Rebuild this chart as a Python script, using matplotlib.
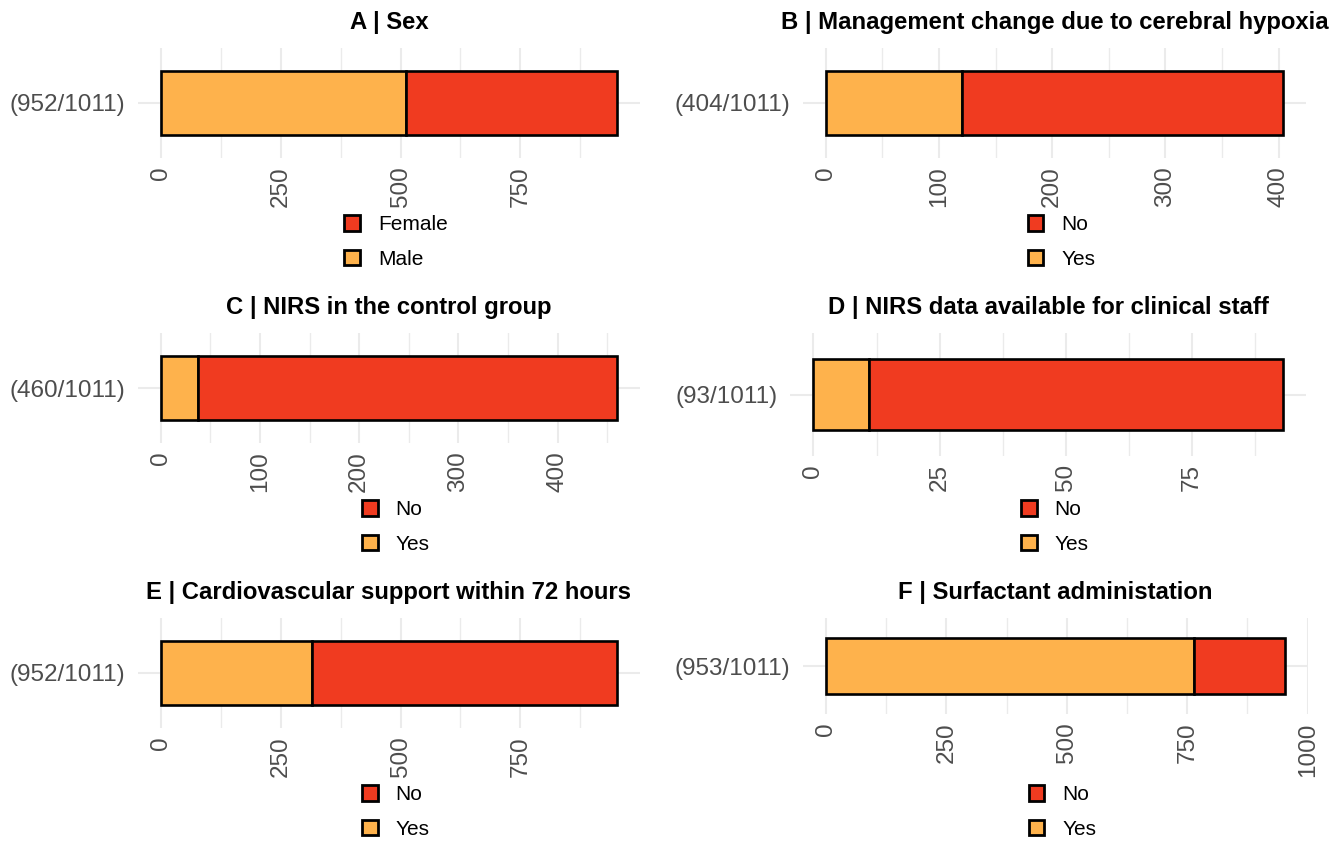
import matplotlib.pyplot as plt
from matplotlib.patches import Patch
from matplotlib.ticker import MultipleLocator

plt.rcParams['font.family'] = ['Liberation Sans', 'DejaVu Sans']

# colours (YlOrRd)
RED = '#F03B20'
ORANGE = '#FEB24C'
GRID = '#EBEBEB'
TEXT_GREY = '#4D4D4D'

W, H = 1335, 841
n_total = 1011

titles = [
    'A | Sex',
    'B | Management change due to cerebral hypoxia',
    'C | NIRS in the control group',
    'D | NIRS data available for clinical staff',
    'E | Cardiovascular support within 72 hours',
    'F | Surfactant administation',
]
right_levels = ['Female', 'No', 'No', 'No', 'No', 'No']
left_levels = ['Male', 'Yes', 'Yes', 'Yes', 'Yes', 'Yes']
right_counts = [441, 284, 423, 82, 637, 189]
left_counts = [511, 120, 37, 11, 315, 764]
major_steps = [250, 100, 100, 25, 250, 250]

# panel boxes in pixels: left, top, right, bottom
boxes = [
    (138, 48, 640, 158), (803, 48, 1306, 158),
    (138, 333, 640, 443), (790, 333, 1306, 456),
    (138, 618, 640, 728), (803, 618, 1308, 714),
]
legend_rows = [242, 242, 527, 527, 812, 812]


def add_panel(fig, i):
    l, t, r, b = boxes[i]
    ax = fig.add_axes([l / W, 1 - b / H, (r - l) / W, (b - t) / H])
    left_n, right_n = left_counts[i], right_counts[i]
    total = left_n + right_n

    ax.barh(1, left_n, height=0.7, color=ORANGE, edgecolor='black', lw=1.9, zorder=3)
    ax.barh(1, right_n, left=left_n, height=0.7, color=RED, edgecolor='black', lw=1.9, zorder=3)

    ax.set_ylim(0.4, 1.6)
    ax.set_xlim(-0.05 * total, 1.05 * total)
    ax.xaxis.set_major_locator(MultipleLocator(major_steps[i]))
    ax.xaxis.set_minor_locator(MultipleLocator(major_steps[i] / 2))
    ax.set_yticks([1], ['({}/{})'.format(total, n_total)])

    ax.grid(which='major', color=GRID, lw=1.5)
    ax.grid(which='minor', axis='x', color=GRID, lw=1.0)
    ax.set_axisbelow(True)
    for s in ax.spines.values():
        s.set_visible(False)
    ax.tick_params(which='both', length=0, colors=TEXT_GREY, labelsize=17.5)
    ax.tick_params(axis='x', labelrotation=90, pad=6)
    ax.tick_params(axis='y', pad=9)

    ax.set_title(titles[i], fontweight='bold', fontsize=17.2, pad=14)

    handles = [
        Patch(facecolor=RED, edgecolor='black', lw=2.0, label=right_levels[i]),
        Patch(facecolor=ORANGE, edgecolor='black', lw=2.0, label=left_levels[i]),
    ]
    xc = (l + r) / 2 + 7
    ax.legend(handles=handles, loc='center', bbox_to_anchor=(xc / W, 1 - legend_rows[i] / H),
              bbox_transform=fig.transFigure, frameon=False, fontsize=15,
              handlelength=0.75, handleheight=0.75, handletextpad=0.85,
              labelspacing=0.75, borderpad=0)
    return ax


fig = plt.figure(figsize=(W / 100, H / 100), dpi=100)
for i in range(len(titles)):
    add_panel(fig, i)
fig.savefig('out.png', dpi=100)
